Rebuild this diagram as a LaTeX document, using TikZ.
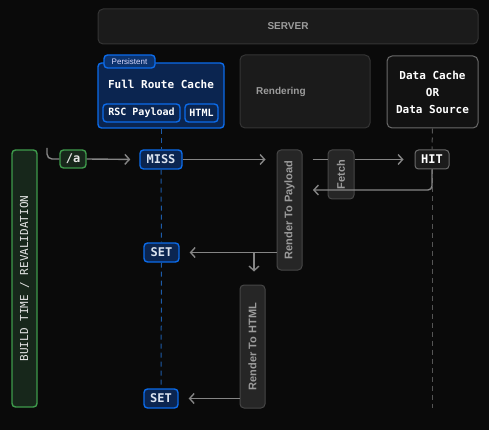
\documentclass[tikz,border=0pt]{standalone}
\usepackage{fontspec}
\setmainfont{Liberation Sans}
\setmonofont{DejaVu Sans Mono}
\usepackage{graphicx}
\usetikzlibrary{arrows.meta}

\definecolor{bg}{HTML}{0A0A0A}
\definecolor{boxfill}{HTML}{1B1B1B}
\definecolor{boxline}{HTML}{343434}
\definecolor{darkfill}{HTML}{121212}
\definecolor{lightline}{HTML}{6A6A6A}
\definecolor{stepfill}{HTML}{262626}
\definecolor{stepline}{HTML}{464646}
\definecolor{bluefill}{HTML}{0B2550}
\definecolor{blueline}{HTML}{0B6BEA}
\definecolor{bluedash}{HTML}{1D5BA8}
\definecolor{bluetext}{HTML}{DCE4F0}
\definecolor{greenfill}{HTML}{17271B}
\definecolor{greenline}{HTML}{3E9B4C}
\definecolor{textgrey}{HTML}{9C9C9C}
\definecolor{linegrey}{HTML}{858585}

\tikzset{
  greybox/.style={draw=boxline, fill=boxfill, line width=1pt, rounded corners=5pt, inner sep=0pt, text=textgrey},
  stepbox/.style={draw=stepline, fill=stepfill, line width=1pt, rounded corners=4pt, inner sep=0pt, text=textgrey,
    font=\fontsize{11}{13}\selectfont\bfseries},
  bluebox/.style={draw=blueline, fill=bluefill, line width=1.4pt, rounded corners=3.5pt, inner sep=0pt, text=bluetext,
    font=\ttfamily\fontsize{12}{14}\selectfont\bfseries},
  hitbox/.style={draw=lightline, fill=boxfill, line width=1pt, rounded corners=3.5pt, inner sep=0pt, text=white,
    font=\ttfamily\fontsize{12}{14}\selectfont\bfseries},
  greenbox/.style={draw=greenline, fill=greenfill, line width=1.4pt, rounded corners=3.5pt, inner sep=0pt, text=white!90!black,
    font=\ttfamily\fontsize{11}{13}\selectfont},
  flow/.style={draw=linegrey, line width=1.4pt, -{Straight Barb[length=4.5pt,width=10pt]}},
  lifeline/.style={line width=1pt, dash pattern=on 5pt off 4pt}
}

\begin{document}
\begin{tikzpicture}[x=1pt,y=-1pt]
\useasboundingbox[fill=bg] (0,0) rectangle (489,430);

% header boxes
\node[greybox, minimum width=380, minimum height=35, font=\fontsize{10}{12}\selectfont\bfseries] (server) at (288,26.5) {SERVER};

\node[bluebox, minimum width=126, minimum height=65] (frc) at (161,95.5) {};
\node[text=white, font=\ttfamily\fontsize{11}{13}\selectfont\bfseries] (frctitle) at (161,84) {Full Route Cache};
\node[bluebox, minimum width=77, minimum height=18, text=white, font=\ttfamily\fontsize{10}{12}\selectfont\bfseries] (rsc) at (141.5,113) {RSC Payload};
\node[bluebox, minimum width=33, minimum height=18, text=white, font=\ttfamily\fontsize{10}{12}\selectfont\bfseries] (html) at (201.5,113) {HTML};
\node[bluebox, fill=bluefill!80!blueline, minimum width=51, minimum height=13, text=white!85!blue,
  font=\fontsize{8}{9}\selectfont] (persistent) at (129.5,61.5) {Persistent};

\node[greybox, minimum width=130, minimum height=73] (rendering) at (305,91.5) {};
\node[anchor=west, text=textgrey, font=\fontsize{10}{12}\selectfont\bfseries, inner sep=0pt] (renderingtitle) at (256,92) {Rendering};

\node[greybox, draw=lightline, fill=darkfill, minimum width=91, minimum height=72, text=white, align=center,
  font=\ttfamily\fontsize{11}{17}\selectfont\bfseries] (datacache) at (432.5,92) {Data Cache\\OR\\Data Source};

% side label
\node[greenbox, minimum width=25, minimum height=257] (build) at (24.5,278.5) {\rotatebox{90}{BUILD TIME / REVALIDATION}};

% request row
\node[greenbox, minimum width=26, minimum height=18, font=\ttfamily\fontsize{12}{14}\selectfont\bfseries] (a) at (73,159) {/a};
\node[bluebox, minimum width=42, minimum height=19] (miss) at (161,159.5) {MISS};
\node[stepbox, minimum width=25, minimum height=120] (payload) at (289.5,210) {\rotatebox{90}{Render To Payload}};
\node[stepbox, minimum width=26, minimum height=49] (fetch) at (341,174.5) {\rotatebox{90}{Fetch}};
\node[hitbox, minimum width=34, minimum height=19] (hit) at (432,159.5) {HIT};

% set rows
\node[bluebox, minimum width=35, minimum height=19] (setpayload) at (161.5,252.5) {SET};
\node[stepbox, minimum width=25, minimum height=123] (tohtml) at (252.5,346.5) {\rotatebox{90}{Render To HTML}};
\node[bluebox, minimum width=34, minimum height=19] (sethtml) at (161,398.5) {SET};

% lifelines
\draw[lifeline, draw=bluedash] (frc.south) -- (miss.north);
\draw[lifeline, draw=bluedash] (miss.south) -- (setpayload.north);
\draw[lifeline, draw=bluedash] (setpayload.south) -- (sethtml.north);
\coordinate (lifeend) at (432,408);
\draw[lifeline, draw=lightline!80!black] (datacache.south) -- (hit.north);
\draw[lifeline, draw=lightline!80!black] (hit.south) -- (lifeend);

% arrows
\coordinate (start) at (47,148);
\draw[draw=linegrey, line width=1.4pt, rounded corners=5pt] (start) |- (a.west);
\draw[flow, shorten >=9pt] (a.east) -- (miss.west);
\draw[flow, shorten >=11pt] (miss.east) -- (miss.east -| payload.west);
\draw[draw=linegrey, line width=1.4pt, shorten <=10pt] (payload.east |- hit.west) -- (fetch.west |- hit.west);
\draw[flow, shorten >=11pt] (fetch.east |- hit.west) -- (hit.west);
\coordinate (back) at (302,190);
\draw[flow, rounded corners=4pt, shorten >=11pt] (hit.south) |- (back);
\draw[flow, shorten >=10pt] (payload.west |- setpayload.east) -- (setpayload.east);
\coordinate (branch) at (254,252.5);
\draw[flow, shorten >=13pt] (branch) -- (branch |- tohtml.north);
\draw[flow, shorten >=10pt] (tohtml.west |- sethtml.east) -- (sethtml.east);

\end{tikzpicture}
\end{document}
